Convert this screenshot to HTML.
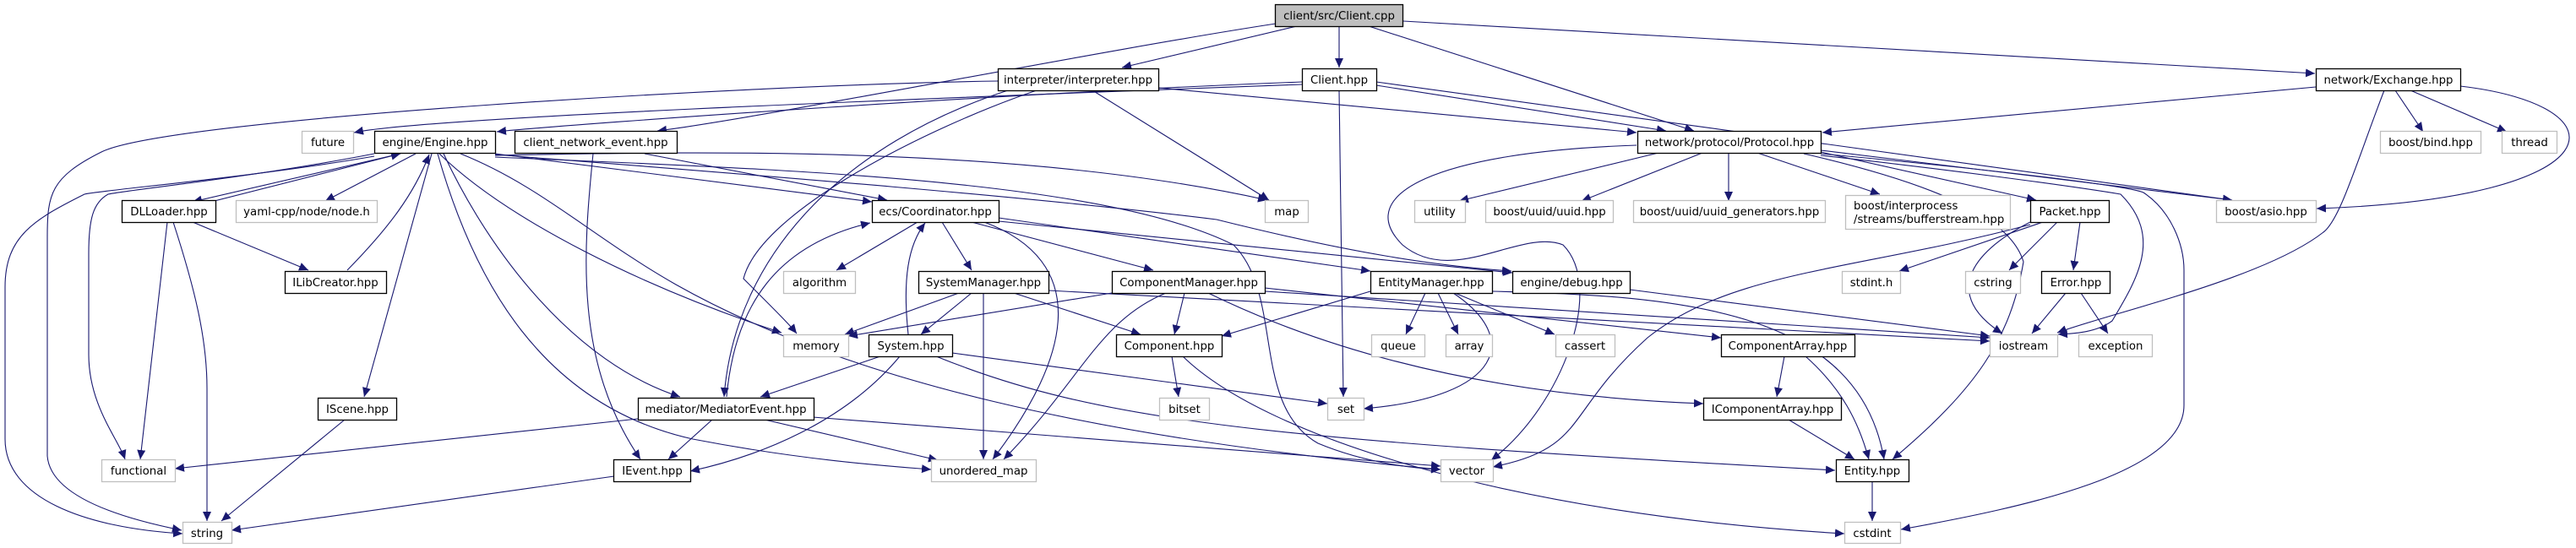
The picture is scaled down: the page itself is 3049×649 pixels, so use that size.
<!DOCTYPE html>
<html><head><meta charset="utf-8">
<style>
html,body{margin:0;padding:0;background:#fff;}
svg{display:block;}
text{font-family:"DejaVu Sans","Liberation Sans",sans-serif;font-size:13.3px;fill:#000;}
.n{fill:#fff;stroke:#000;stroke-width:1.3;}
.x{fill:#fff;stroke:#bfbfbf;stroke-width:1.3;}
.e{fill:none;stroke:#191970;stroke-width:1.1;marker-end:url(#a);}
</style></head><body>
<svg width="3049" height="649" viewBox="0 0 3049 649" xmlns="http://www.w3.org/2000/svg">
<defs><marker id="a" markerUnits="userSpaceOnUse" markerWidth="12" markerHeight="10" refX="11" refY="5" orient="auto"><path d="M0,0 L11,5 L0,10 z" fill="#191970"/></marker></defs>
<g>
<path class="e" d="M1535,31 L1328,80"/>
<path class="e" d="M1510,28 C1300,60 900,140 778,155"/>
<path class="e" d="M1585,31 L1585,80"/>
<path class="e" d="M1620,31 L2005,155"/>
<path class="e" d="M1661,25 L2740,87"/>
<path class="e" d="M1181,96 C900,100 200,140 120,180 C60,210 56,230 56,280 L56,540 C60,590 150,615 215,628"/>
<path class="e" d="M1227,107 C1100,150 900,250 880,330 C920,370 935,385 943,395"/>
<path class="e" d="M1193,107 C1000,170 870,300 857,470"/>
<path class="e" d="M1293,107 L1502,237"/>
<path class="e" d="M1371,104 L1937,157"/>
<path class="e" d="M1585,107 L1590,470"/>
<path class="e" d="M1629,101 L1972,155"/>
<path class="e" d="M1629,97 L2642,237"/>
<path class="e" d="M1541,97 C1200,110 700,145 588,156"/>
<path class="e" d="M1541,100 C1000,120 500,140 419,157"/>
<path class="e" d="M2741,103 L2157,157"/>
<path class="e" d="M2835,107 L2868,156"/>
<path class="e" d="M2853,107 L2967,156"/>
<path class="e" d="M2912,102 C3110,125 3100,235 2742,247"/>
<path class="e" d="M2822,107 C2790,190 2770,260 2750,275 C2680,330 2500,370 2435,394"/>
<path class="e" d="M474,182 L228,239"/>
<path class="e" d="M250,239 L474,182"/>
<path class="e" d="M492,182 L385,238"/>
<path class="e" d="M411,320 C460,270 490,230 508,183"/>
<path class="e" d="M511,182 L431,470"/>
<path class="e" d="M443,182 C300,210 150,225 128,230 C110,240 105,260 105,300 L105,420 C105,480 140,520 148,544"/>
<path class="e" d="M443,185 C300,210 120,225 100,230 C40,260 6,280 6,340 L6,520 C6,590 100,625 216,632"/>
<path class="e" d="M520,182 C600,260 760,340 925,394"/>
<path class="e" d="M525,182 C580,300 680,430 805,470"/>
<path class="e" d="M518,182 C560,330 640,480 820,520 C950,545 1050,552 1102,556"/>
<path class="e" d="M545,182 C640,220 700,280 800,337 C1000,450 1300,520 1705,556"/>
<path class="e" d="M586,182 L1032,239"/>
<path class="e" d="M586,184 C800,180 1200,170 1500,237"/>
<path class="e" d="M586,183 C800,200 1200,230 1440,260 C1600,300 1700,315 1789,321"/>
<path class="e" d="M586,186 C900,200 1300,210 1460,290 C1520,350 1480,480 1560,525 C1620,550 1680,555 1705,556"/>
<path class="e" d="M763,182 L1050,237"/>
<path class="e" d="M702,182 C690,300 680,430 758,544"/>
<path class="e" d="M198,263 L166,544"/>
<path class="e" d="M205,263 C230,340 245,400 245,460 L245,617"/>
<path class="e" d="M228,263 L365,320"/>
<path class="e" d="M408,497 L262,617"/>
<path class="e" d="M727,564 L274,628"/>
<path class="e" d="M755,496 L207,555"/>
<path class="e" d="M843,497 L791,544"/>
<path class="e" d="M905,497 L1110,545"/>
<path class="e" d="M962,494 L1705,552"/>
<path class="e" d="M860,470 C870,360 920,290 1030,264"/>
<path class="e" d="M1086,263 L990,320"/>
<path class="e" d="M1115,263 L1150,320"/>
<path class="e" d="M1150,263 L1365,320"/>
<path class="e" d="M1165,263 C1290,310 1270,420 1175,544"/>
<path class="e" d="M1182,258 L1622,321"/>
<path class="e" d="M1182,262 L1790,323"/>
<path class="e" d="M1075,396 C1068,330 1075,290 1095,264"/>
<path class="e" d="M1135,347 L1000,396"/>
<path class="e" d="M1150,347 L1090,396"/>
<path class="e" d="M1164,347 L1164,544"/>
<path class="e" d="M1200,347 L1350,396"/>
<path class="e" d="M1241,344 L2355,404"/>
<path class="e" d="M1316,347 L1004,398"/>
<path class="e" d="M1402,347 L1390,396"/>
<path class="e" d="M1380,347 C1300,380 1280,450 1188,544"/>
<path class="e" d="M1430,347 C1600,430 1800,470 2016,478"/>
<path class="e" d="M1497,341 L2037,400"/>
<path class="e" d="M1497,345 L2355,400"/>
<path class="e" d="M1042,422 L900,470"/>
<path class="e" d="M1065,422 C1000,500 900,540 817,558"/>
<path class="e" d="M1127,418 L1571,478"/>
<path class="e" d="M1108,422 C1300,500 1500,520 2172,557"/>
<path class="e" d="M1387,422 L1395,470"/>
<path class="e" d="M1400,422 C1500,520 1800,610 2183,632"/>
<path class="e" d="M1687,347 L1664,396"/>
<path class="e" d="M1702,347 L1726,396"/>
<path class="e" d="M1722,347 L1840,396"/>
<path class="e" d="M1622,345 L1446,398"/>
<path class="e" d="M1720,347 C1800,400 1780,470 1614,484"/>
<path class="e" d="M1766,345 C2000,350 2200,370 2230,544"/>
<path class="e" d="M1929,343 L2355,398"/>
<path class="e" d="M2112,422 L2103,470"/>
<path class="e" d="M2137,422 C2180,460 2200,500 2212,544"/>
<path class="e" d="M2117,497 L2195,544"/>
<path class="e" d="M2216,569 L2216,617"/>
<path class="e" d="M1963,181 L1727,238"/>
<path class="e" d="M2015,181 L1872,238"/>
<path class="e" d="M2046,181 L2046,238"/>
<path class="e" d="M2080,181 L2225,230"/>
<path class="e" d="M1937,172 C1700,180 1600,230 1660,290 C1720,340 1800,270 1850,290 C1900,340 1850,480 1765,545"/>
<path class="e" d="M2155,180 L2410,237"/>
<path class="e" d="M2155,178 L2642,237"/>
<path class="e" d="M2155,184 C2300,200 2450,220 2510,230 C2560,280 2530,330 2500,380 C2480,395 2450,395 2436,396"/>
<path class="e" d="M2155,182 C2350,200 2520,220 2537,228 C2570,250 2585,290 2585,320 L2585,480 C2585,560 2400,600 2250,627"/>
<path class="e" d="M2135,182 C2300,220 2380,260 2395,310 C2380,400 2340,460 2240,544"/>
<path class="e" d="M2462,263 L2454,320"/>
<path class="e" d="M2418,263 L2248,321"/>
<path class="e" d="M2435,263 L2378,320"/>
<path class="e" d="M2403,263 C2330,300 2300,350 2370,395"/>
<path class="e" d="M2403,266 C2200,320 2050,320 1950,400 C1850,490 1880,530 1767,553"/>
<path class="e" d="M2445,347 L2405,395"/>
<path class="e" d="M2463,347 L2495,395"/>
</g>
<g>
<rect x="1509.5" y="5.5" width="151" height="26" fill="#bfbfbf" stroke="#000" stroke-width="1.3"/><text x="1585" y="23" text-anchor="middle">client/src/Client.cpp</text>
<rect class="n" x="1181.5" y="81.5" width="190" height="26"/><text x="1276" y="99" text-anchor="middle">interpreter/interpreter.hpp</text>
<rect class="n" x="1541.5" y="81.5" width="88" height="26"/><text x="1585" y="99" text-anchor="middle">Client.hpp</text>
<rect class="n" x="2741.5" y="81.5" width="171" height="26"/><text x="2827" y="99" text-anchor="middle">network/Exchange.hpp</text>
<rect class="x" x="357.5" y="155.5" width="61" height="26"/><text x="388" y="173" text-anchor="middle">future</text>
<rect class="n" x="443.5" y="155.5" width="143" height="26"/><text x="515" y="173" text-anchor="middle">engine/Engine.hpp</text>
<rect class="n" x="609.5" y="155.5" width="192" height="26"/><text x="705" y="173" text-anchor="middle">client_network_event.hpp</text>
<rect class="n" x="1938.5" y="155.5" width="217" height="26"/><text x="2047" y="173" text-anchor="middle">network/protocol/Protocol.hpp</text>
<rect class="x" x="2817.5" y="155.5" width="119" height="26"/><text x="2877" y="173" text-anchor="middle">boost/bind.hpp</text>
<rect class="x" x="2961.5" y="155.5" width="65" height="26"/><text x="2994" y="173" text-anchor="middle">thread</text>
<rect class="n" x="144.5" y="237.5" width="111" height="26"/><text x="200" y="255" text-anchor="middle">DLLoader.hpp</text>
<rect class="x" x="279.5" y="237.5" width="167" height="26"/><text x="363" y="255" text-anchor="middle">yaml-cpp/node/node.h</text>
<rect class="n" x="1032.5" y="237.5" width="150" height="26"/><text x="1107" y="255" text-anchor="middle">ecs/Coordinator.hpp</text>
<rect class="x" x="1497.5" y="237.5" width="51" height="26"/><text x="1523" y="255" text-anchor="middle">map</text>
<rect class="x" x="1674.5" y="237.5" width="60" height="26"/><text x="1704" y="255" text-anchor="middle">utility</text>
<rect class="x" x="1758.5" y="237.5" width="151" height="26"/><text x="1834" y="255" text-anchor="middle">boost/uuid/uuid.hpp</text>
<rect class="x" x="1933.5" y="237.5" width="227" height="26"/><text x="2047" y="255" text-anchor="middle">boost/uuid/uuid_generators.hpp</text>
<rect class="x" x="2184.5" y="231.5" width="195" height="40"/><text x="2194" y="248">boost/interprocess</text><text x="2194" y="264">/streams/bufferstream.hpp</text>
<rect class="n" x="2403.5" y="237.5" width="93" height="26"/><text x="2450" y="255" text-anchor="middle">Packet.hpp</text>
<rect class="x" x="2623.5" y="237.5" width="118" height="26"/><text x="2682" y="255" text-anchor="middle">boost/asio.hpp</text>
<rect class="n" x="337.5" y="321.5" width="120" height="26"/><text x="397" y="339" text-anchor="middle">ILibCreator.hpp</text>
<rect class="x" x="927.5" y="321.5" width="85" height="26"/><text x="970" y="339" text-anchor="middle">algorithm</text>
<rect class="n" x="1087.5" y="321.5" width="154" height="26"/><text x="1164" y="339" text-anchor="middle">SystemManager.hpp</text>
<rect class="n" x="1316.5" y="321.5" width="181" height="26"/><text x="1407" y="339" text-anchor="middle">ComponentManager.hpp</text>
<rect class="n" x="1622.5" y="321.5" width="144" height="26"/><text x="1694" y="339" text-anchor="middle">EntityManager.hpp</text>
<rect class="n" x="1790.5" y="321.5" width="139" height="26"/><text x="1860" y="339" text-anchor="middle">engine/debug.hpp</text>
<rect class="x" x="2180.5" y="321.5" width="69" height="26"/><text x="2215" y="339" text-anchor="middle">stdint.h</text>
<rect class="x" x="2326.5" y="321.5" width="65" height="26"/><text x="2359" y="339" text-anchor="middle">cstring</text>
<rect class="n" x="2416.5" y="321.5" width="81" height="26"/><text x="2457" y="339" text-anchor="middle">Error.hpp</text>
<rect class="x" x="927.5" y="396.5" width="77" height="26"/><text x="966" y="414" text-anchor="middle">memory</text>
<rect class="n" x="1028.5" y="396.5" width="99" height="26"/><text x="1078" y="414" text-anchor="middle">System.hpp</text>
<rect class="n" x="1321.5" y="396.5" width="125" height="26"/><text x="1384" y="414" text-anchor="middle">Component.hpp</text>
<rect class="x" x="1623.5" y="396.5" width="63" height="26"/><text x="1655" y="414" text-anchor="middle">queue</text>
<rect class="x" x="1711.5" y="396.5" width="55" height="26"/><text x="1739" y="414" text-anchor="middle">array</text>
<rect class="x" x="1841.5" y="396.5" width="70" height="26"/><text x="1876" y="414" text-anchor="middle">cassert</text>
<rect class="n" x="2037.5" y="396.5" width="158" height="26"/><text x="2116" y="414" text-anchor="middle">ComponentArray.hpp</text>
<rect class="x" x="2355.5" y="396.5" width="80" height="26"/><text x="2395" y="414" text-anchor="middle">iostream</text>
<rect class="x" x="2460.5" y="396.5" width="87" height="26"/><text x="2504" y="414" text-anchor="middle">exception</text>
<rect class="n" x="376.5" y="471.5" width="93" height="26"/><text x="423" y="489" text-anchor="middle">IScene.hpp</text>
<rect class="n" x="755.5" y="471.5" width="208" height="26"/><text x="859" y="489" text-anchor="middle">mediator/MediatorEvent.hpp</text>
<rect class="x" x="1372.5" y="471.5" width="59" height="26"/><text x="1402" y="489" text-anchor="middle">bitset</text>
<rect class="x" x="1571.5" y="471.5" width="43" height="26"/><text x="1593" y="489" text-anchor="middle">set</text>
<rect class="n" x="2016.5" y="471.5" width="163" height="26"/><text x="2098" y="489" text-anchor="middle">IComponentArray.hpp</text>
<rect class="x" x="120.5" y="544.5" width="87" height="26"/><text x="164" y="562" text-anchor="middle">functional</text>
<rect class="n" x="726.5" y="544.5" width="91" height="26"/><text x="772" y="562" text-anchor="middle">IEvent.hpp</text>
<rect class="x" x="1102.5" y="544.5" width="124" height="26"/><text x="1164" y="562" text-anchor="middle">unordered_map</text>
<rect class="x" x="1705.5" y="544.5" width="62" height="26"/><text x="1736" y="562" text-anchor="middle">vector</text>
<rect class="n" x="2173.5" y="544.5" width="86" height="26"/><text x="2216" y="562" text-anchor="middle">Entity.hpp</text>
<rect class="x" x="216.5" y="618.5" width="58" height="25"/><text x="245" y="636" text-anchor="middle">string</text>
<rect class="x" x="2183.5" y="618.5" width="66" height="25"/><text x="2216" y="636" text-anchor="middle">cstdint</text>
</g>
</svg>
</body></html>
